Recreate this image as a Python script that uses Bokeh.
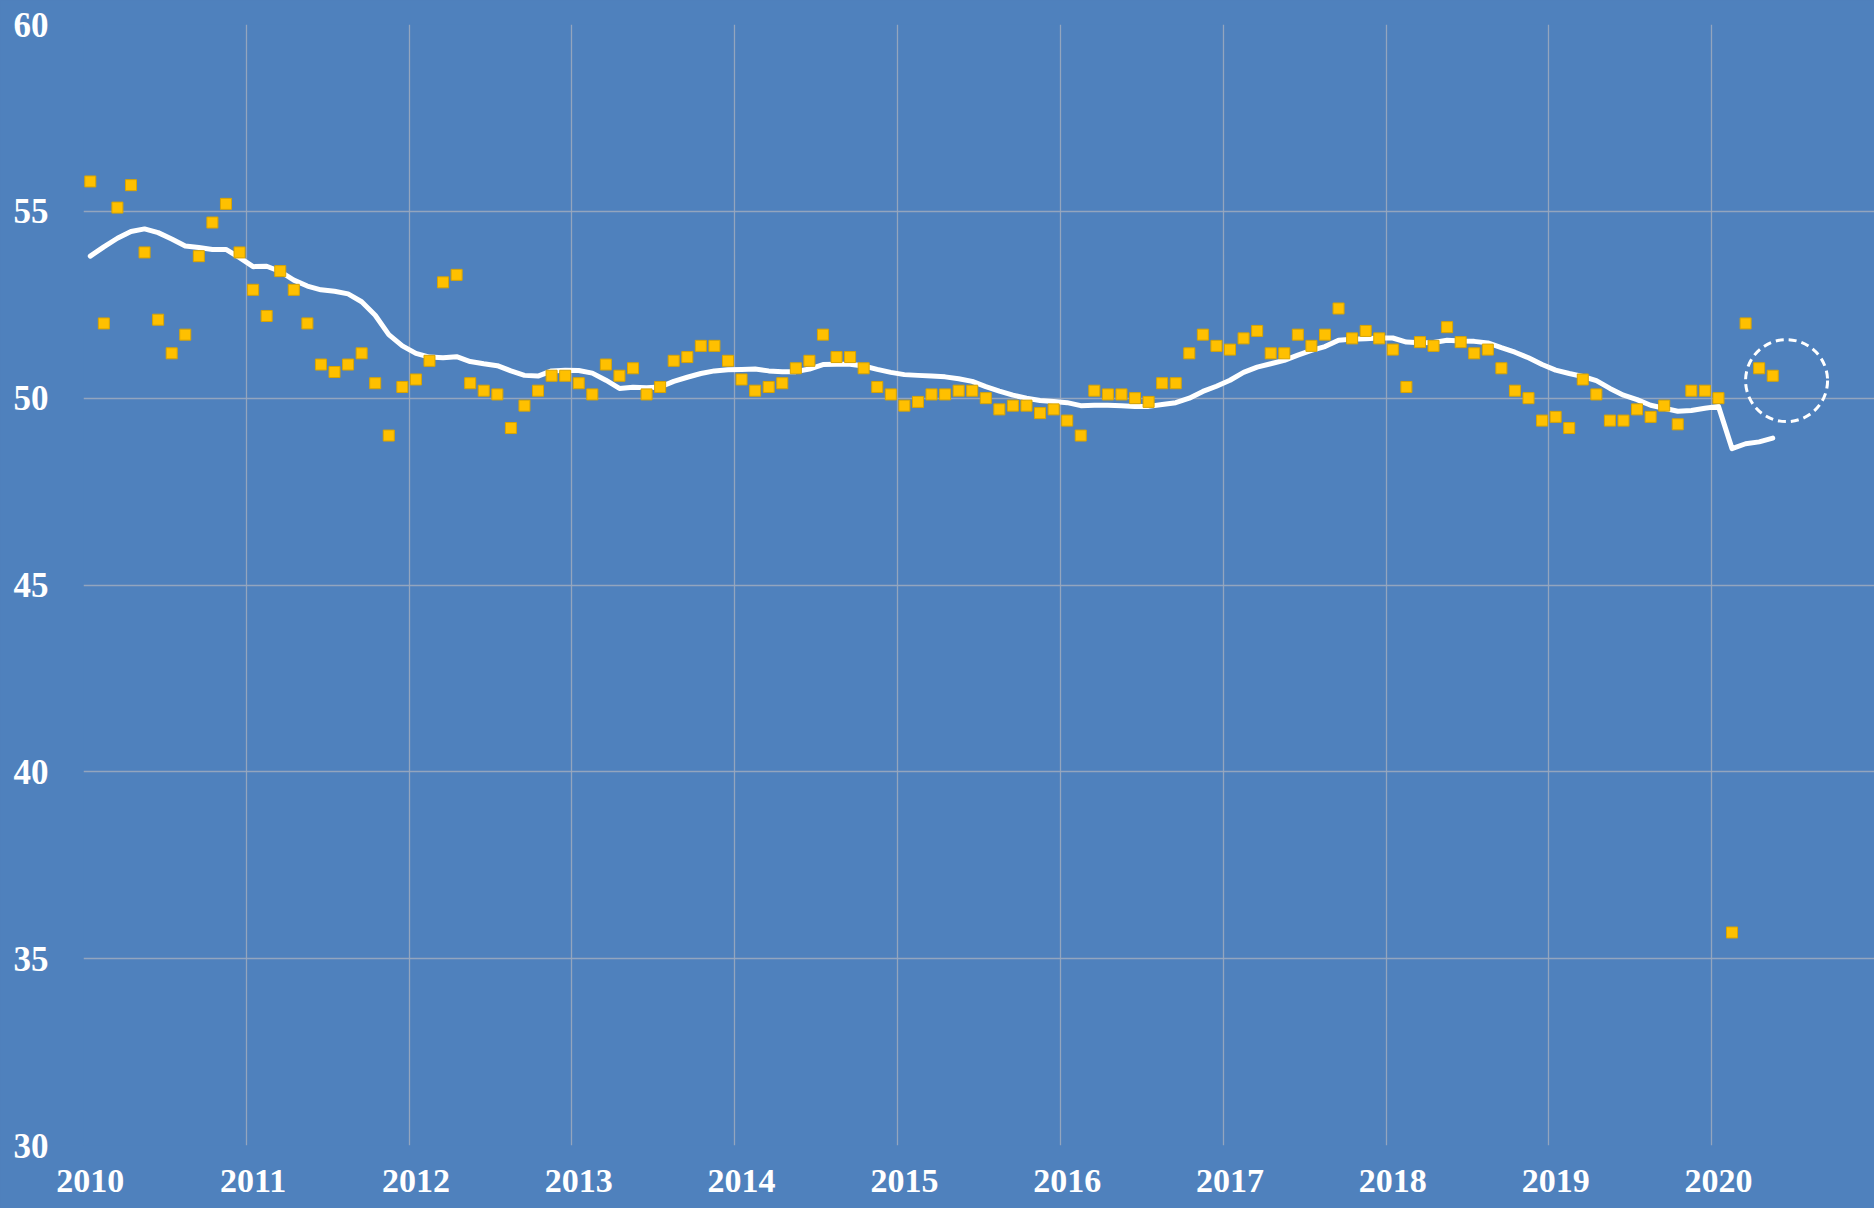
from bokeh.plotting import figure
from bokeh.models import FixedTicker, Range1d, GlobalInlineStyleSheet
from bokeh.embed import file_html
from bokeh.resources import INLINE

# ---------------- data ----------------
start_year = 2010
year_ticks = [2010, 2011, 2012, 2013, 2014, 2015, 2016, 2017, 2018, 2019, 2020]
year_labels = ["2010", "2011", "2012", "2013", "2014", "2015", "2016", "2017", "2018", "2019", "2020"]
y_ticks = [30, 35, 40, 45, 50, 55, 60]

# monthly index values, Jan 2010 .. May 2020
monthly_values = [
    55.8, 52.0, 55.1, 55.7, 53.9, 52.1, 51.2, 51.7, 53.8, 54.7, 55.2, 53.9,
    52.9, 52.2, 53.4, 52.9, 52.0, 50.9, 50.7, 50.9, 51.2, 50.4, 49.0, 50.3,
    50.5, 51.0, 53.1, 53.3, 50.4, 50.2, 50.1, 49.2, 49.8, 50.2, 50.6, 50.6,
    50.4, 50.1, 50.9, 50.6, 50.8, 50.1, 50.3, 51.0, 51.1, 51.4, 51.4, 51.0,
    50.5, 50.2, 50.3, 50.4, 50.8, 51.0, 51.7, 51.1, 51.1, 50.8, 50.3, 50.1,
    49.8, 49.9, 50.1, 50.1, 50.2, 50.2, 50.0, 49.7, 49.8, 49.8, 49.6, 49.7,
    49.4, 49.0, 50.2, 50.1, 50.1, 50.0, 49.9, 50.4, 50.4, 51.2, 51.7, 51.4,
    51.3, 51.6, 51.8, 51.2, 51.2, 51.7, 51.4, 51.7, 52.4, 51.6, 51.8, 51.6,
    51.3, 50.3, 51.5, 51.4, 51.9, 51.5, 51.2, 51.3, 50.8, 50.2, 50.0, 49.4,
    49.5, 49.2, 50.5, 50.1, 49.4, 49.4, 49.7, 49.5, 49.8, 49.3, 50.2, 50.2,
    50.0, 35.7, 52.0, 50.8, 50.6,
]

# trend line values (white line), Jan 2010 .. May 2020
trend_values = [
    53.80, 54.05, 54.28, 54.46, 54.53, 54.43, 54.26, 54.07, 54.03, 53.98, 53.98, 53.76,
    53.52, 53.53, 53.39, 53.16, 53.00, 52.90, 52.86, 52.79, 52.58, 52.22, 51.70, 51.40,
    51.20, 51.10, 51.08, 51.11, 50.98, 50.92, 50.87, 50.73, 50.61, 50.59, 50.73, 50.75,
    50.74, 50.67, 50.48, 50.26, 50.29, 50.28, 50.30, 50.45, 50.56, 50.66, 50.73, 50.76,
    50.77, 50.78, 50.73, 50.71, 50.71, 50.78, 50.90, 50.91, 50.91, 50.86, 50.77, 50.69,
    50.63, 50.61, 50.59, 50.57, 50.52, 50.45, 50.31, 50.19, 50.08, 50.00, 49.94, 49.91,
    49.88, 49.80, 49.81, 49.81, 49.80, 49.78, 49.78, 49.83, 49.88, 50.00, 50.18, 50.32,
    50.48, 50.69, 50.83, 50.92, 51.01, 51.15, 51.28, 51.38, 51.55, 51.58, 51.59, 51.61,
    51.61, 51.50, 51.48, 51.49, 51.55, 51.53, 51.52, 51.48, 51.35, 51.23, 51.08, 50.90,
    50.75, 50.66, 50.58, 50.47, 50.26, 50.08, 49.96, 49.81, 49.73, 49.65, 49.67, 49.73,
    49.78, 48.65, 48.78, 48.83, 48.93,
]

# dashed highlight circle (centre)
highlight_x = [2020.46]
highlight_y = [50.47]

# ---------------- positions ----------------
x_months = [start_year + (i + 0.5) / 12.0 for i in range(len(monthly_values))]
x_trend = [start_year + (i + 0.5) / 12.0 for i in range(len(trend_values))]

BG = "#4F81BD"
GRID = "#9AA8BE"
FONT = "Liberation Serif"

p = figure(
    frame_width=1791, frame_height=1121,
    x_range=Range1d(2010, 2021), y_range=Range1d(30, 60),
    output_backend="svg", toolbar_location=None,
    background_fill_color=BG, border_fill_color=BG,
    min_border_left=83, min_border_right=0, min_border_top=24, min_border_bottom=62,
    outline_line_color=None,
)
p.stylesheets = [GlobalInlineStyleSheet(
    css="html, body { margin: 0; padding: 0; overflow: hidden; background: #4F81BD; }")]

# grids
p.xgrid.ticker = FixedTicker(ticks=year_ticks + [2021])
p.ygrid.ticker = FixedTicker(ticks=y_ticks)
for g in (p.xgrid, p.ygrid):
    g.grid_line_color = GRID
    g.grid_line_width = 1.3
    g.grid_line_alpha = 0.9

# axes
p.xaxis.ticker = FixedTicker(ticks=[y + 0.5 / 12.0 for y in year_ticks])
p.xaxis.major_label_overrides = {y + 0.5 / 12.0: lab for y, lab in zip(year_ticks, year_labels)}
p.yaxis.ticker = FixedTicker(ticks=y_ticks)
for ax in (p.xaxis, p.yaxis):
    ax.axis_line_color = None
    ax.major_tick_line_color = None
    ax.minor_tick_line_color = None
    ax.major_tick_out = 0
    ax.major_tick_in = 0
    ax.major_label_text_color = "white"
    ax.major_label_text_font = FONT
    ax.major_label_text_font_style = "bold"
p.xaxis.major_label_text_font_size = "34px"
p.yaxis.major_label_text_font_size = "35px"
p.xaxis.major_label_standoff = 24
p.yaxis.major_label_standoff = 35

# trend line
p.line(x_trend, trend_values, line_color="white", line_width=5, line_join="round", line_cap="round")

# monthly markers
p.scatter(x_months, monthly_values, marker="square", size=11,
          fill_color="#FFC000", line_color="#D9A400", line_width=1)

# dashed highlight circle
p.scatter(highlight_x, highlight_y, marker="circle", size=82,
          fill_alpha=0, line_color="white", line_width=3, line_dash="8 5")

open("out.html", "w").write(file_html(p, INLINE))
